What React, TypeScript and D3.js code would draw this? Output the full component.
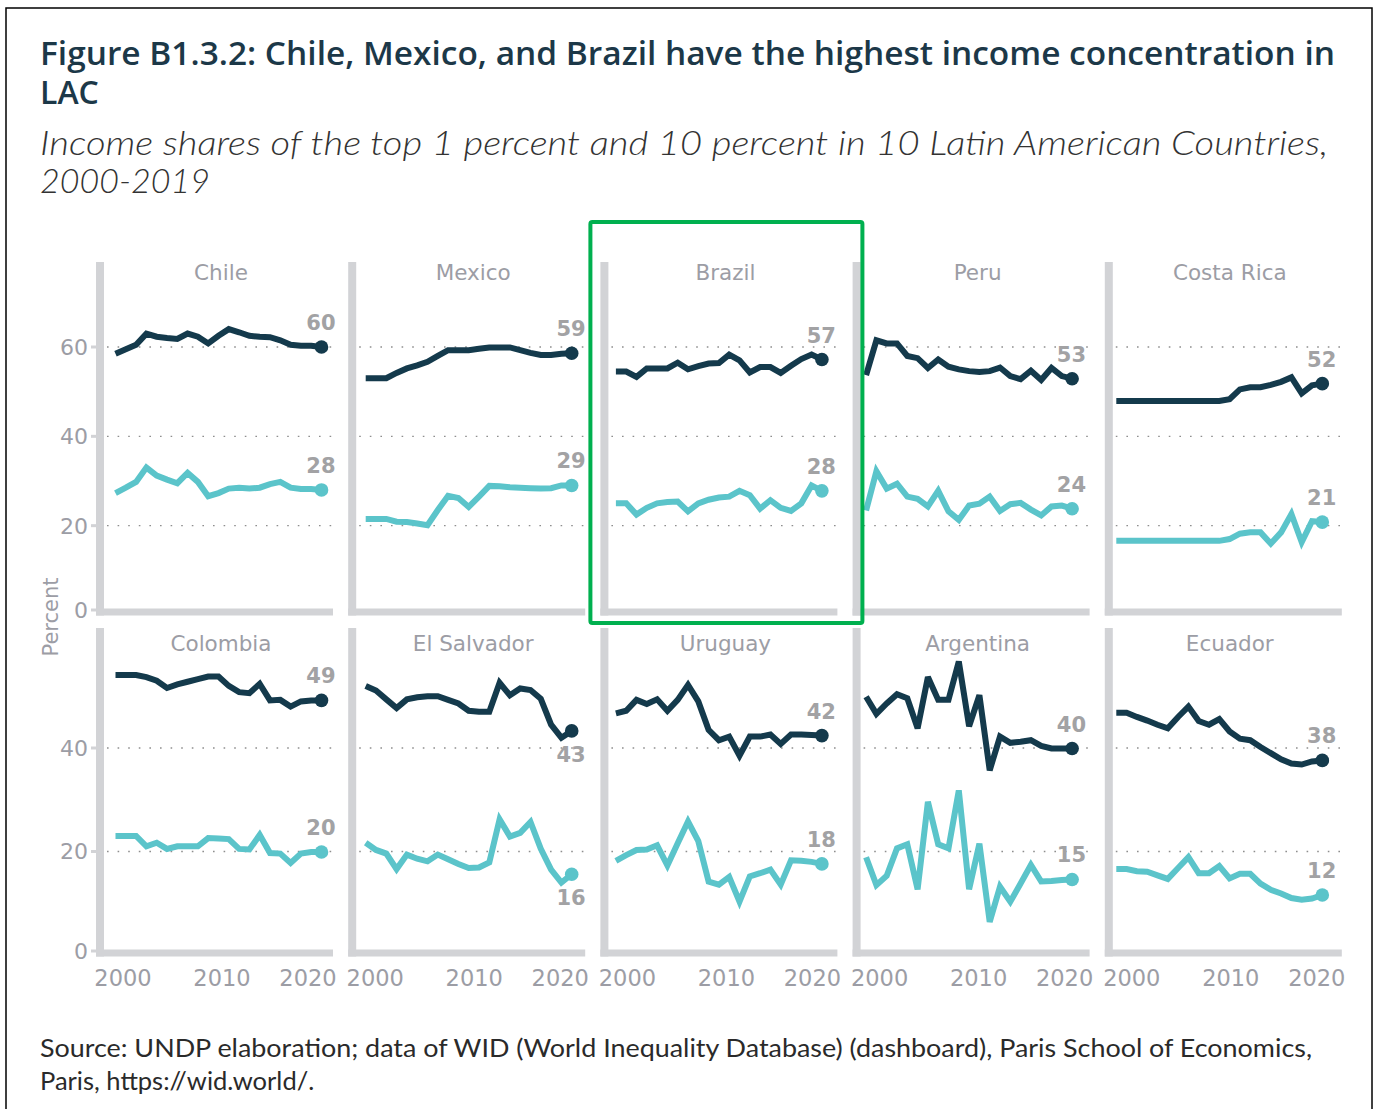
import React from "react";
import * as d3 from "d3";

// ---------------- DATA ----------------
const years = [2000, 2001, 2002, 2003, 2004, 2005, 2006, 2007, 2008, 2009, 2010, 2011, 2012, 2013, 2014, 2015, 2016, 2017, 2018, 2019, 2020];

const countries = ["Chile", "Mexico", "Brazil", "Peru", "Costa Rica", "Colombia", "El Salvador", "Uruguay", "Argentina", "Ecuador"];

// Top 10 percent income share (%)
const chileTop10 = [58.5, 59.5, 60.5, 63.0, 62.3, 62.0, 61.8, 63.0, 62.3, 60.8, 62.5, 64.0, 63.3, 62.5, 62.3, 62.2, 61.5, 60.5, 60.3, 60.3, 60.0];
const mexicoTop10 = [53.0, 53.0, 53.0, 54.2, 55.2, 55.9, 56.7, 58.0, 59.3, 59.3, 59.3, 59.6, 59.9, 59.9, 59.9, 59.3, 58.7, 58.2, 58.2, 58.5, 58.6];
const brazilTop10 = [54.5, 54.5, 53.3, 55.2, 55.2, 55.2, 56.5, 55.0, 55.7, 56.3, 56.4, 58.3, 57.0, 54.3, 55.5, 55.5, 54.2, 55.8, 57.3, 58.3, 57.2];
const peruTop10 = [53.7, 61.5, 60.8, 60.8, 58.0, 57.5, 55.3, 57.2, 55.6, 55.0, 54.6, 54.4, 54.6, 55.4, 53.5, 52.8, 54.7, 52.6, 55.3, 53.5, 52.9];
const costaRicaTop10 = [47.9, 47.9, 47.9, 47.9, 47.9, 47.9, 47.9, 47.9, 47.9, 47.9, 47.9, 48.3, 50.5, 51.0, 51.0, 51.5, 52.2, 53.2, 49.6, 51.4, 51.8];
const colombiaTop10 = [54.1, 54.1, 54.1, 53.7, 53.0, 51.6, 52.3, 52.8, 53.3, 53.8, 53.8, 52.0, 50.8, 50.6, 52.4, 49.2, 49.3, 48.0, 49.0, 49.2, 49.2];
const elSalvadorTop10 = [52.0, 51.1, 49.4, 47.7, 49.4, 49.8, 50.0, 50.0, 49.3, 48.6, 47.2, 47.0, 47.0, 52.6, 50.2, 51.5, 51.2, 49.5, 44.5, 42.0, 43.3];
const uruguayTop10 = [46.7, 47.2, 49.3, 48.5, 49.4, 47.2, 49.3, 52.2, 49.0, 43.5, 41.5, 42.2, 38.5, 42.2, 42.2, 42.6, 40.8, 42.6, 42.6, 42.5, 42.4];
const argentinaTop10 = [49.9, 46.6, 48.6, 50.4, 49.6, 43.8, 53.7, 49.3, 49.3, 56.7, 44.2, 50.2, 35.7, 42.2, 41.0, 41.2, 41.5, 40.4, 39.9, 39.9, 39.9];
const ecuadorTop10 = [46.8, 46.8, 46.0, 45.3, 44.5, 43.8, 46.0, 48.0, 45.2, 44.5, 45.6, 43.2, 41.8, 41.5, 40.2, 39.0, 37.8, 37.0, 36.8, 37.4, 37.6];

// Top 1 percent income share (%)
const chileTop1 = [27.3, 28.5, 29.8, 33.0, 31.2, 30.3, 29.5, 31.8, 29.8, 26.6, 27.3, 28.3, 28.5, 28.3, 28.5, 29.3, 29.8, 28.5, 28.2, 28.2, 28.0];
const mexicoTop1 = [21.5, 21.5, 21.5, 20.9, 20.8, 20.5, 20.1, 23.5, 26.7, 26.2, 24.2, 26.5, 28.9, 28.8, 28.6, 28.5, 28.4, 28.3, 28.4, 29.0, 29.0];
const brazilTop1 = [25.0, 25.0, 22.5, 24.0, 25.0, 25.3, 25.4, 23.2, 25.0, 25.8, 26.3, 26.5, 27.8, 26.8, 23.8, 25.7, 24.0, 23.3, 25.0, 29.0, 27.8];
const peruTop1 = [23.4, 32.2, 28.3, 29.4, 26.5, 26.0, 24.3, 27.8, 23.2, 21.3, 24.5, 24.9, 26.5, 23.3, 24.8, 25.1, 23.6, 22.3, 24.3, 24.5, 23.8];
const costaRicaTop1 = [16.6, 16.6, 16.6, 16.6, 16.6, 16.6, 16.6, 16.6, 16.6, 16.6, 16.6, 17.0, 18.2, 18.5, 18.5, 16.0, 18.5, 22.6, 16.3, 21.0, 20.8];
const colombiaTop1 = [23.0, 23.0, 23.0, 21.0, 21.7, 20.5, 21.0, 21.0, 21.0, 22.6, 22.5, 22.4, 20.5, 20.4, 23.2, 19.7, 19.6, 17.8, 19.6, 19.9, 19.9];
const elSalvadorTop1 = [21.7, 20.3, 19.6, 16.6, 19.4, 18.6, 18.1, 19.4, 18.5, 17.6, 16.8, 16.9, 17.9, 26.2, 22.9, 23.6, 25.7, 20.5, 16.5, 14.0, 15.6];
const uruguayTop1 = [18.2, 19.3, 20.3, 20.4, 21.2, 17.3, 21.6, 25.8, 22.0, 14.2, 13.6, 15.1, 10.3, 15.2, 15.8, 16.5, 13.6, 18.3, 18.2, 18.0, 17.6];
const argentinaTop1 = [18.9, 13.5, 15.3, 20.6, 21.4, 12.7, 29.6, 21.4, 20.6, 31.8, 12.7, 21.5, 6.4, 13.2, 10.3, 13.8, 17.4, 14.2, 14.3, 14.5, 14.6];
const ecuadorTop1 = [16.6, 16.6, 16.2, 16.1, 15.4, 14.7, 16.8, 18.9, 15.8, 15.8, 17.2, 14.8, 15.7, 15.7, 13.8, 12.6, 11.9, 11.0, 10.7, 10.9, 11.6];

const top10Series = [chileTop10, mexicoTop10, brazilTop10, peruTop10, costaRicaTop10, colombiaTop10, elSalvadorTop10, uruguayTop10, argentinaTop10, ecuadorTop10];
const top1Series = [chileTop1, mexicoTop1, brazilTop1, peruTop1, costaRicaTop1, colombiaTop1, elSalvadorTop1, uruguayTop1, argentinaTop1, ecuadorTop1];

// End-label side (above / below the final dot)
const labelSide = ["above", "above", "above", "above", "above", "above", "below", "above", "above", "above"];

const topRowTicks = [0, 20, 40, 60];
const bottomRowTicks = [0, 20, 40];
const xTicks = [2000, 2010, 2020];

const titleLines = ["Figure B1.3.2: Chile, Mexico, and Brazil have the highest income concentration in", "LAC"];
const subtitleLines = ["Income shares of the top 1 percent and 10 percent in 10 Latin American Countries,", "2000-2019"];
const sourceLines = ["Source: UNDP elaboration; data of WID (World Inequality Database) (dashboard), Paris School of Economics,", "Paris, https://wid.world/."];
const highlighted = "Brazil";

// ---------------- STYLE / LAYOUT ----------------
const W = 1375;
const H = 1109;
const DARK = "#143a4c";
const TEAL = "#5bc4ca";
const GRAY_TXT = "#9c9da5";
const AXIS_GRAY = "#d2d3d6";
const LABEL_GRAY = "#a2a2a4";
const FONT = "'DejaVu Sans', sans-serif";

const rows = [
  { barTop: 262, axisY: 612, domain: [0, 60], range: [615, 347], ticks: topRowTicks, titleY: 280 },
  { barTop: 628, axisY: 953, domain: [0, 40], range: [955, 748], ticks: bottomRowTicks, titleY: 651 },
];

function barXOf(c: number) {
  return 100 + c * 252.2;
}
function lineStartOf(c: number) {
  return 115.5 + c * 250.2;
}

function Panel({ i }: { i: number }) {
  const c = i % 5;
  const r = Math.floor(i / 5);
  const row = rows[r];
  const bx = barXOf(c);
  const ls = lineStartOf(c);
  const x = d3.scaleLinear().domain([years[0], years[years.length - 1]]).range([ls, ls + 206]);
  const y = d3.scaleLinear().domain(row.domain).range(row.range);
  const line = d3
    .line<number>()
    .x((_, k) => x(years[k]))
    .y((d) => y(d));
  const gridVals = row.ticks.filter((t) => t > 0);
  const series = [
    { vals: top10Series[i], color: DARK },
    { vals: top1Series[i], color: TEAL },
  ];
  const tickScale = d3.scaleLinear().domain([2000, 2020]).range([bx + 8, bx + 236]);
  return (
    <g>
      {gridVals.map((g) => (
        <line
          key={g}
          x1={bx + 7}
          x2={bx + 233}
          y1={y(g)}
          y2={y(g)}
          stroke="#8e8e8e"
          strokeWidth={1.4}
          strokeDasharray="1.6 9"
        />
      ))}
      <rect x={bx - 4} y={row.barTop} width={8} height={row.axisY + 3.5 - row.barTop} fill={AXIS_GRAY} />
      <rect x={bx - 4} y={row.axisY - 3.5} width={237} height={7} fill={AXIS_GRAY} />
      <text x={bx + 121} y={row.titleY} textAnchor="middle" fontFamily={FONT} fontSize={21.5} fill={GRAY_TXT}>
        {countries[i]}
      </text>
      {c === 0 &&
        row.ticks.map((t) => (
          <g key={t}>
            <text
              x={bx - 12}
              y={Math.min(y(t), row.axisY - 2)}
              dy="0.36em"
              textAnchor="end"
              fontFamily={FONT}
              fontSize={22}
              fill={GRAY_TXT}
            >
              {t}
            </text>
            <line x1={bx - 9} x2={bx - 4} y1={Math.min(y(t), row.axisY - 2)} y2={Math.min(y(t), row.axisY - 2)} stroke={AXIS_GRAY} strokeWidth={3} />
          </g>
        ))}
      {r === 1 &&
        xTicks.map((t) => {
          const cx = Math.max(bx + 23, Math.min(bx + 208, tickScale(t)));
          return (
            <text key={t} x={cx} y={986} textAnchor="middle" fontFamily={FONT} fontSize={22.5} fill={GRAY_TXT}>
              {t}
            </text>
          );
        })}
      {series.map((s, k) => (
        <path
          key={k}
          d={line(s.vals) || ""}
          fill="none"
          stroke={s.color}
          strokeWidth={6}
          strokeLinejoin="miter"
          strokeMiterlimit={3}
        />
      ))}
      {series.map((s, k) => {
        const last = s.vals[s.vals.length - 1];
        const dx = x(years[years.length - 1]);
        const dy = y(last);
        const ly = labelSide[i] === "above" ? dy - 17 : dy + 31;
        return (
          <g key={"e" + k}>
            <circle cx={dx} cy={dy} r={6.8} fill={s.color} />
            <text
              x={dx + 14}
              y={ly}
              textAnchor="end"
              fontFamily={FONT}
              fontWeight={700}
              fontSize={21}
              fill={LABEL_GRAY}
            >
              {Math.round(last)}
            </text>
          </g>
        );
      })}
    </g>
  );
}

export default function App() {
  const hiIdx = countries.indexOf(highlighted);
  const hc = hiIdx % 5;
  const hbx = barXOf(hc);
  return (
    <svg
      width={W}
      height={H}
      viewBox={`0 0 ${W} ${H}`}
      style={{ position: "absolute", left: 0, top: 0, background: "#fff" }}
    >
      <rect x={0} y={0} width={W} height={H} fill="#fff" />
      <rect x={6} y={8} width={1366} height={1200} fill="none" stroke="#000" strokeWidth={1.5} />
      {titleLines.map((t, k) => (
        <text
          key={k}
          x={40}
          y={65 + k * 39}
          fontFamily="'Open Sans', sans-serif"
          fontWeight={600}
          fontSize={32}
          fill="#1c3848"
          textLength={k === 0 ? 1295 : undefined}
          lengthAdjust="spacingAndGlyphs"
        >
          {t}
        </text>
      ))}
      {subtitleLines.map((t, k) => (
        <text
          key={k}
          x={40}
          y={155 + k * 38}
          fontFamily="Lato, sans-serif"
          fontStyle="italic"
          fontWeight={300}
          fontSize={34}
          fill="#333333"
          textLength={k === 0 ? 1288 : undefined}
          lengthAdjust="spacingAndGlyphs"
        >
          {t}
        </text>
      ))}
      <text
        transform="translate(58,617) rotate(-90)"
        textAnchor="middle"
        fontFamily={FONT}
        fontSize={21}
        fill={GRAY_TXT}
      >
        Percent
      </text>
      {countries.map((_, i) => (
        <Panel key={i} i={i} />
      ))}
      <rect x={hbx - 14} y={222} width={272} height={401} fill="none" stroke="#00b04f" strokeWidth={4} rx={2} />
      {sourceLines.map((t, k) => (
        <text
          key={k}
          x={40}
          y={1057 + k * 33}
          fontFamily="Lato, sans-serif"
          fontSize={25.5}
          fill="#2a2a2a"
          textLength={k === 0 ? 1272 : undefined}
          lengthAdjust="spacingAndGlyphs"
        >
          {t}
        </text>
      ))}
    </svg>
  );
}
